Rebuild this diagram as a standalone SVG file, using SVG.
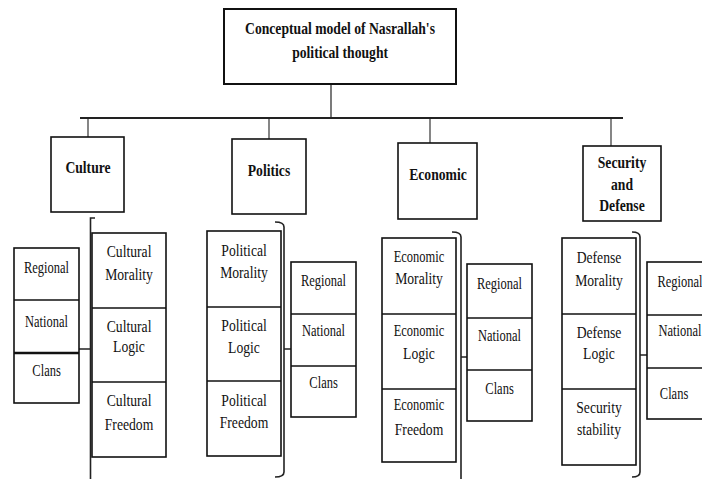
<svg xmlns="http://www.w3.org/2000/svg" width="702" height="479" viewBox="0 0 702 479">
<style>
rect,.box{fill:#fff;stroke:#111;stroke-width:1.6}
.div{stroke:#111;stroke-width:1.6;fill:none}
.conn{stroke:#222;fill:none}
text{fill:#111;text-anchor:middle;transform:scaleX(.78);transform-box:fill-box;transform-origin:center}
.b{font-weight:bold;font-size:17.5px}
.m{font-size:17.5px}
.s{font-size:16px}
</style>
<rect x="0" y="0" width="702" height="479" style="fill:#fff;stroke:none"/>
<g id="connectors">
<line class="conn" x1="331" y1="84" x2="331" y2="118" stroke-width="1.2"/>
<line class="conn" x1="80" y1="118" x2="623" y2="118" stroke-width="2.2"/>
<line class="conn" x1="88" y1="118" x2="88" y2="137" stroke-width="1.1"/>
<line class="conn" x1="269" y1="118" x2="269" y2="139" stroke-width="1.1"/>
<line class="conn" x1="430" y1="118" x2="430" y2="143" stroke-width="1.1"/>
<line class="conn" x1="611" y1="118" x2="611" y2="146" stroke-width="1.1"/>
<path class="conn" stroke-width="1.6" d="M95,218 L90.5,218 L90.5,479 M78,349 L90.5,349"/>
<path class="conn" stroke-width="1.6" d="M275,222 Q284,222 284,227 L284,472 Q284,477 275,477 M284,349 L300,349"/>
<path class="conn" stroke-width="1.6" d="M452,232 Q461,232 461,237 L461,479 M461,357 L476,357"/>
<path class="conn" stroke-width="1.6" d="M632,232 Q640,232 640,237 L640,472 Q640,477 632,477 M640,355 L657,355"/>
</g>
<g font-family="'Liberation Serif', 'Times New Roman', 'DejaVu Serif', serif">
<g id="title">
<rect x="224" y="9" width="232" height="75" style="stroke-width:2"/>
<text class="b" x="340" y="34">Conceptual model of Nasrallah's</text>
<text class="b" x="340" y="58">political thought</text>
</g>
<g id="culture">
<rect x="51" y="137" width="73" height="75"/>
<text class="b" x="88" y="173">Culture</text>
</g>
<g id="politics">
<rect x="232" y="139" width="74" height="75"/>
<text class="b" x="269" y="176">Politics</text>
</g>
<g id="economic">
<rect x="398" y="143" width="79" height="76"/>
<text class="b" x="438" y="180">Economic</text>
</g>
<g id="security">
<rect x="583" y="146" width="78" height="75"/>
<text class="b" x="622" y="168">Security</text>
<text class="b" x="622" y="190">and</text>
<text class="b" x="622" y="211">Defense</text>
</g>
<g id="culture-levels">
<rect x="14" y="248" width="65" height="155"/>
<line class="div" x1="14" y1="300" x2="79" y2="300"/>
<line class="div" x1="14" y1="353" x2="79" y2="353" style="stroke-width:2.6"/>
<text class="s" x="46.5" y="273">Regional</text>
<text class="s" x="46.5" y="327">National</text>
<text class="s" x="46.5" y="376">Clans</text>
</g>
<g id="culture-aspects">
<rect x="92" y="233" width="74" height="224"/>
<line class="div" x1="92" y1="308" x2="166" y2="308"/>
<line class="div" x1="92" y1="382" x2="166" y2="382"/>
<text class="m" x="129" y="257">Cultural</text>
<text class="m" x="129" y="280">Morality</text>
<text class="m" x="129" y="332">Cultural</text>
<text class="m" x="129" y="352">Logic</text>
<text class="m" x="129" y="406">Cultural</text>
<text class="m" x="129" y="430">Freedom</text>
</g>
<g id="politics-aspects">
<rect x="207" y="231" width="74" height="225"/>
<line class="div" x1="207" y1="307" x2="281" y2="307"/>
<line class="div" x1="207" y1="381" x2="281" y2="381"/>
<text class="m" x="244" y="256">Political</text>
<text class="m" x="244" y="278">Morality</text>
<text class="m" x="244" y="331">Political</text>
<text class="m" x="244" y="353">Logic</text>
<text class="m" x="244" y="406">Political</text>
<text class="m" x="244" y="428">Freedom</text>
</g>
<g id="politics-levels">
<rect x="291" y="262" width="65" height="155"/>
<line class="div" x1="291" y1="314" x2="356" y2="314"/>
<line class="div" x1="291" y1="366" x2="356" y2="366"/>
<text class="s" x="323.5" y="286">Regional</text>
<text class="s" x="323.5" y="336">National</text>
<text class="s" x="323.5" y="388">Clans</text>
</g>
<g id="economic-aspects">
<rect x="382" y="238" width="74" height="224"/>
<line class="div" x1="382" y1="314" x2="456" y2="314"/>
<line class="div" x1="382" y1="389" x2="456" y2="389"/>
<text class="s" x="419" y="262">Economic</text>
<text class="m" x="419" y="284">Morality</text>
<text class="s" x="419" y="336">Economic</text>
<text class="m" x="419" y="359">Logic</text>
<text class="s" x="419" y="410">Economic</text>
<text class="m" x="419" y="435">Freedom</text>
</g>
<g id="economic-levels">
<rect x="467" y="264" width="65" height="157"/>
<line class="div" x1="467" y1="318" x2="532" y2="318"/>
<line class="div" x1="467" y1="370" x2="532" y2="370"/>
<text class="s" x="499.5" y="289">Regional</text>
<text class="s" x="499.5" y="341">National</text>
<text class="s" x="499.5" y="394">Clans</text>
</g>
<g id="security-aspects">
<rect x="562" y="238" width="74" height="227"/>
<line class="div" x1="562" y1="314" x2="636" y2="314"/>
<line class="div" x1="562" y1="389" x2="636" y2="389"/>
<text class="m" x="599" y="263">Defense</text>
<text class="m" x="599" y="286">Morality</text>
<text class="m" x="599" y="338">Defense</text>
<text class="m" x="599" y="359">Logic</text>
<text class="m" x="599" y="413">Security</text>
<text class="m" x="599" y="435">stability</text>
</g>
<g id="security-levels">
<rect x="647" y="262" width="65" height="157"/>
<line class="div" x1="647" y1="315" x2="712" y2="315"/>
<line class="div" x1="647" y1="368" x2="712" y2="368"/>
<text class="s" x="680" y="287">Regional</text>
<text class="s" x="680" y="336">National</text>
<text class="s" x="674" y="399">Clans</text>
</g>
</g>
</svg>
